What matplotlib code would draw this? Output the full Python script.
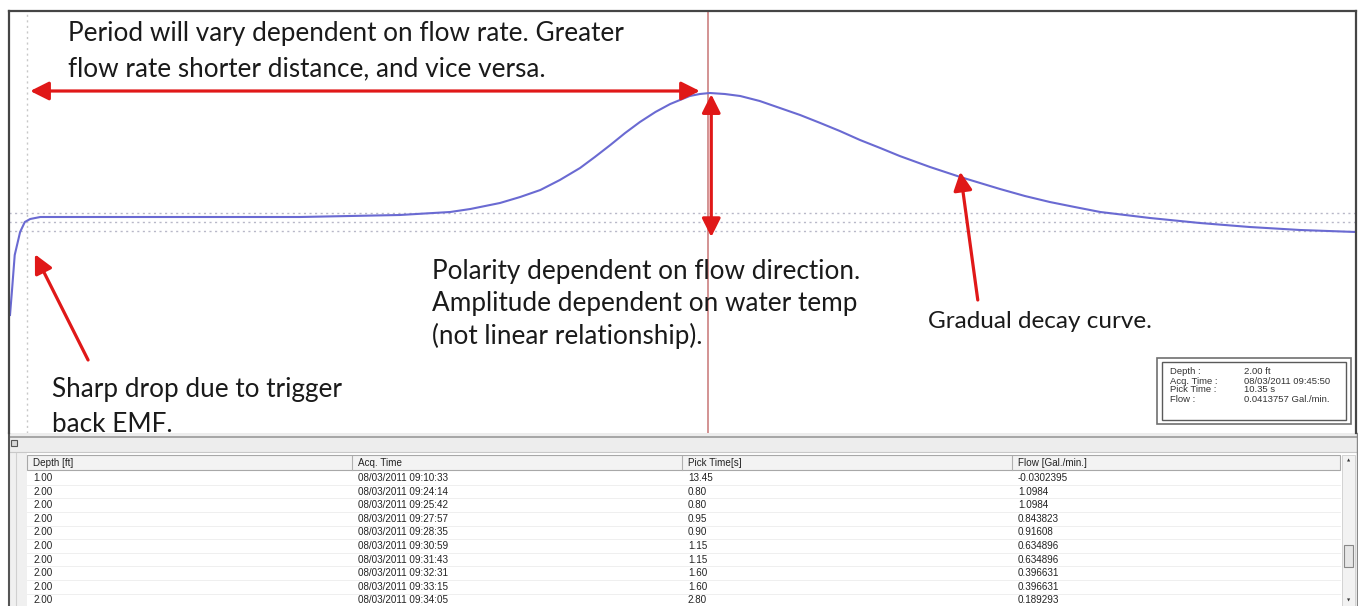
import matplotlib.pyplot as plt
from matplotlib.patches import Rectangle

# trace: time [s] vs relative amplitude
t = [0.00, 0.03, 0.07, 0.15, 0.22, 0.30, 0.45, 1.34, 2.82, 4.31, 5.79, 6.54, 6.84,
     7.28, 7.58, 7.88, 8.17, 8.47, 8.69, 8.92, 9.14, 9.36, 9.59, 9.81, 10.10, 10.25,
     10.40, 10.62, 10.85, 11.14, 11.44, 11.74, 12.04, 12.33, 12.63, 12.93, 13.22,
     13.67, 14.12, 14.71, 15.08, 15.45, 15.82, 16.20, 16.57, 16.94, 17.68, 18.42,
     19.17, 20.00]
amp = [-0.776, -0.576, -0.296, -0.112, -0.032, -0.008, 0.008, 0.008, 0.008, 0.008,
       0.024, 0.048, 0.072, 0.120, 0.168, 0.224, 0.304, 0.400, 0.488, 0.584, 0.680,
       0.768, 0.848, 0.912, 0.976, 0.992, 1.000, 0.992, 0.976, 0.936, 0.880, 0.824,
       0.760, 0.696, 0.624, 0.560, 0.496, 0.408, 0.328, 0.232, 0.176, 0.128, 0.088,
       0.048, 0.024, 0.000, -0.040, -0.072, -0.096, -0.112]
thresholds = [0.040, -0.032, -0.104]
trigger_t = 0.25
pick_t = 10.37

info_labels = ["Depth :", "Acq. Time :", "Pick Time :", "Flow :"]
info_values = ["2.00 ft", "08/03/2011 09:45:50", "10.35 s", "0.0413757 Gal./min."]

col_names = ["Depth [ft]", "Acq. Time", "Pick Time[s]", "Flow [Gal./min.]"]
depth = ["1.00"] + ["2.00"] * 9
acq_time = ["08/03/2011 09:10:33", "08/03/2011 09:24:14", "08/03/2011 09:25:42",
            "08/03/2011 09:27:57", "08/03/2011 09:28:35", "08/03/2011 09:30:59",
            "08/03/2011 09:31:43", "08/03/2011 09:32:31", "08/03/2011 09:33:15",
            "08/03/2011 09:34:05"]
pick_time = ["13.45", "0.80", "0.80", "0.95", "0.90", "1.15", "1.15", "1.60", "1.60", "2.80"]
flow = ["-0.0302395", "1.0984", "1.0984", "0.843823", "0.91608", "0.634896",
        "0.634896", "0.396631", "0.396631", "0.189293"]

W, H = 1358, 606
fig = plt.figure(figsize=(W / 100, H / 100), dpi=100)
fig.patch.set_facecolor("white")

# background layer in pixel coordinates for the window chrome / table
bg = fig.add_axes([0, 0, 1, 1], zorder=0)
bg.set_xlim(0, W)
bg.set_ylim(H, 0)
bg.axis("off")

bg.add_patch(Rectangle((9, 433), W - 9, 20, fc="#ededed", ec="none"))
bg.plot([9, W], [437, 437], color="#9a9a9a", lw=1.2)
bg.plot([9, W], [452, 452], color="#c8c8c8", lw=0.8)
bg.add_patch(Rectangle((9, 453), 18, H - 453, fc="#f0f0f0", ec="none"))
bg.plot([9, 9], [433, H], color="#555555", lw=1.5)
bg.plot([16, 16], [453, H], color="#d0d0d0", lw=0.8)
bg.add_patch(Rectangle((11, 440), 6, 6, fc="#d8d8d8", ec="#555555", lw=0.8))

col_x = [27, 352, 682, 1012]
tab_right = 1340
tab_font = dict(fontsize=7.1, family="Liberation Sans", va="center", ha="left",
                color="#222222")
bg.add_patch(Rectangle((27, 455), tab_right - 27, 15, fc="#f3f3f3", ec="#a8a8a8", lw=0.8))
for cx in col_x[1:]:
    bg.plot([cx, cx], [456, 470], color="#b0b0b0", lw=0.8)
for name, cx in zip(col_names, col_x):
    bg.text(cx + 6, 463, name, **tab_font)

row_y0, row_dy = 478, 13.6
columns = [depth, acq_time, pick_time, flow]
for i in range(len(depth)):
    y = row_y0 + i * row_dy
    bg.plot([27, tab_right], [y + row_dy / 2, y + row_dy / 2], color="#ececec", lw=0.6)
    for col, cx in zip(columns, col_x):
        bg.text(cx + 6, y, col[i], **tab_font)

# scrollbar
bg.add_patch(Rectangle((1342, 455), 13, H - 455, fc="#f2f2f2", ec="#cccccc", lw=0.6))
bg.add_patch(Rectangle((1344, 545), 9, 22, fc="#e6e6e6", ec="#888888", lw=0.8))
bg.text(1348.5, 461, "\u25b2", fontsize=3, ha="center", va="center", color="#333333")
bg.text(1348.5, 601, "\u25bc", fontsize=3, ha="center", va="center", color="#333333")
bg.plot([W - 1.5, W - 1.5], [433, H], color="#888888", lw=1)

# signal plot
ax = fig.add_axes([9 / W, (H - 433) / H, 1347 / W, 422 / H], zorder=2)
ax.set_facecolor("white")
ax.set_xlim(-0.015, 20.0)
ax.set_ylim(-1.72, 1.656)
ax.set_xticks([])
ax.set_yticks([])
for side in ["top", "left", "right"]:
    ax.spines[side].set_color("#454545")
    ax.spines[side].set_linewidth(1.6)
ax.spines["bottom"].set_visible(False)

for th in thresholds:
    ax.axhline(th, color="#b8b8c8", lw=1.0, ls=(0, (1.5, 2.5)))
ax.axvline(trigger_t, color="#c8c8c8", lw=1.0, ls=(0, (1.5, 2.5)))
ax.axvline(pick_t, color="#d08a8a", lw=1.3)
ax.plot(t, amp, color="#6a6ad2", lw=1.5)

red = "#e01818"
arrow_kw = dict(color=red, lw=2.3, mutation_scale=28, shrinkA=0, shrinkB=0)
ax.annotate("", xy=(0.30, 1.016), xytext=(10.25, 1.016),
            arrowprops=dict(arrowstyle="<|-|>", **arrow_kw))
ax.annotate("", xy=(10.42, 0.99), xytext=(10.42, -0.152),
            arrowprops=dict(arrowstyle="<|-|>", **arrow_kw))
ax.annotate("", xy=(0.37, -0.29), xytext=(1.16, -1.136),
            arrowprops=dict(arrowstyle="-|>", **arrow_kw))
ax.annotate("", xy=(14.12, 0.37), xytext=(14.38, -0.656),
            arrowprops=dict(arrowstyle="-|>", **arrow_kw))

# overlay in pixel coordinates for the callout text and info box
top = fig.add_axes([0, 0, 1, 1], zorder=3)
top.set_xlim(0, W)
top.set_ylim(H, 0)
top.axis("off")
top.patch.set_alpha(0)

note_kw = dict(fontsize=18.8, family="Lato", color="#1a1a1a", va="center", ha="left")
top.text(68, 34, "Period will vary dependent on flow rate. Greater", **note_kw)
top.text(68, 69, "flow rate shorter distance, and vice versa.", **note_kw)
top.text(432, 271, "Polarity dependent on flow direction.", **note_kw)
top.text(432, 304, "Amplitude dependent on water temp", **note_kw)
top.text(432, 336, "(not linear relationship).", **note_kw)
top.text(928, 322, "Gradual decay curve.", **{**note_kw, "fontsize": 17.5})
top.text(52, 390, "Sharp drop due to trigger", **note_kw)
top.text(52, 424, "back EMF.", **note_kw)

top.add_patch(Rectangle((1157, 358), 194, 66, fc="white", ec="#707070", lw=1.2))
top.add_patch(Rectangle((1162, 362), 184, 58, fc="white", ec="#5a5a5a", lw=1.0))
for i, (lab, val) in enumerate(zip(info_labels, info_values)):
    y = 372 + i * 9
    top.text(1170, y, lab, fontsize=6.8, family="Liberation Sans", va="center", color="#333333")
    top.text(1244, y, val, fontsize=6.8, family="Liberation Sans", va="center", color="#333333")

fig.savefig("out.png", dpi=100)
